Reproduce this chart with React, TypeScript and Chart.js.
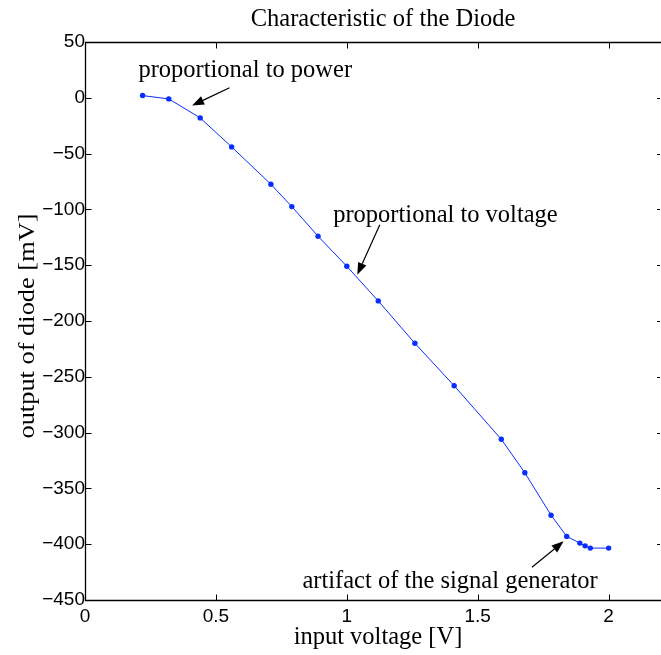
import React, { useEffect, useRef } from "react";
import { Chart, registerables } from "chart.js";

Chart.register(...registerables);

// ---- data ----
const inputVoltage = [0.22, 0.32, 0.44, 0.56, 0.71, 0.79, 0.89, 1.0, 1.12, 1.26, 1.41, 1.59, 1.68, 1.78, 1.84, 1.89, 1.91, 1.93, 2.0];
const diodeOutput = [2, -1, -18, -44, -77.5, -97.5, -124, -151, -182, -220, -258, -306, -336, -374, -393, -399, -401.5, -403.5, -403.5];

const xTickValues = [0, 0.5, 1, 1.5, 2];
const yTickValues = [50, 0, -50, -100, -150, -200, -250, -300, -350, -400, -450];

const titleText = "Characteristic of the Diode";
const xLabelText = "input voltage [V]";
const yLabelText = "output of diode [mV]";

const noteTexts = ["proportional to power", "proportional to voltage", "artifact of the signal generator"];
// anchor of each text (data coords) and arrow tail/head (data coords)
const noteTextX = [0.204, 0.948, 1.958];
const noteTextY = [18.2, -111.6, -439.4];
const noteAlign = ["left", "left", "right"];
const arrowTailX = [0.552, 1.126, 1.707];
const arrowTailY = [9.0, -113.7, -420.7];
const arrowHeadX = [0.409, 1.04, 1.828];
const arrowHeadY = [-6.9, -158.5, -397.4];

const SERIF = '"Liberation Serif", "Times New Roman", serif';
const SANS = '"Liberation Sans", Arial, Helvetica, sans-serif';

const decorPlugin = {
  id: "decor",
  afterDraw(chart: any) {
    const ctx = chart.ctx as CanvasRenderingContext2D;
    const xs = chart.scales.x;
    const ys = chart.scales.y;
    const ca = chart.chartArea;
    const L = Math.round(ca.left) + 0.5;
    const R = ca.right - 1;
    const T = Math.round(ca.top) + 0.5;
    const B = Math.round(ca.bottom) + 0.5;
    ctx.save();
    // frame
    ctx.strokeStyle = "#000";
    ctx.lineWidth = 1.3;
    ctx.beginPath();
    ctx.moveTo(ca.right + 2, T);
    ctx.lineTo(L, T);
    ctx.lineTo(L, B);
    ctx.lineTo(ca.right + 2, B);
    ctx.stroke();
    // inward ticks
    ctx.lineWidth = 1;
    const tl = 6;
    ctx.beginPath();
    for (const v of xTickValues) {
      const px = Math.round(xs.getPixelForValue(v)) + 0.5;
      ctx.moveTo(px, B);
      ctx.lineTo(px, B - tl);
      ctx.moveTo(px, T);
      ctx.lineTo(px, T + tl);
    }
    for (const v of yTickValues) {
      const py = Math.round(ys.getPixelForValue(v)) + 0.5;
      ctx.moveTo(L, py);
      ctx.lineTo(L + tl, py);
      ctx.moveTo(R, py);
      ctx.lineTo(R - 3, py);
    }
    ctx.stroke();

    // title
    const cx = (ca.left + ca.right) / 2;
    ctx.fillStyle = "#000";
    ctx.font = `24.5px ${SERIF}`;
    ctx.textAlign = "center";
    ctx.textBaseline = "alphabetic";
    ctx.fillText(titleText, cx + 10, 26);
    // x label
    ctx.font = `24.5px ${SERIF}`;
    ctx.fillText(xLabelText, cx + 5, 644);
    // y label
    ctx.save();
    ctx.translate(34, 326);
    ctx.rotate(-Math.PI / 2);
    ctx.scale(1.1, 1);
    ctx.font = `24px ${SERIF}`;
    ctx.fillText(yLabelText, 0, 0);
    ctx.restore();

    // annotations
    for (let i = 0; i < noteTexts.length; i++) {
      ctx.font = `24.5px ${SERIF}`;
      ctx.textAlign = noteAlign[i] as CanvasTextAlign;
      ctx.fillStyle = "#000";
      ctx.fillText(noteTexts[i], xs.getPixelForValue(noteTextX[i]), ys.getPixelForValue(noteTextY[i]));
      const x0 = xs.getPixelForValue(arrowTailX[i]);
      const y0 = ys.getPixelForValue(arrowTailY[i]);
      const x1 = xs.getPixelForValue(arrowHeadX[i]);
      const y1 = ys.getPixelForValue(arrowHeadY[i]);
      const ang = Math.atan2(y1 - y0, x1 - x0);
      const hl = 12;
      const hw = 4.5;
      const bx = x1 - hl * Math.cos(ang);
      const by = y1 - hl * Math.sin(ang);
      ctx.strokeStyle = "#000";
      ctx.lineWidth = 1.2;
      ctx.beginPath();
      ctx.moveTo(x0, y0);
      ctx.lineTo(bx, by);
      ctx.stroke();
      ctx.beginPath();
      ctx.moveTo(x1, y1);
      ctx.lineTo(bx + hw * Math.sin(ang), by - hw * Math.cos(ang));
      ctx.lineTo(bx - hw * Math.sin(ang), by + hw * Math.cos(ang));
      ctx.closePath();
      ctx.fill();
    }
    ctx.restore();
  },
};

export default function App() {
  const ref = useRef<HTMLCanvasElement | null>(null);
  useEffect(() => {
    if (!ref.current) return;
    const chart = new Chart(ref.current, {
      type: "line",
      data: {
        datasets: [
          {
            data: inputVoltage.map((x, i) => ({ x, y: diodeOutput[i] })),
            borderColor: "#0a2dff",
            backgroundColor: "#0a2dff",
            borderWidth: 1,
            pointRadius: 2.7,
            pointBorderWidth: 0,
            pointBackgroundColor: "#0a2dff",
            tension: 0,
          },
        ],
      },
      options: {
        responsive: false,
        animation: false,
        events: [],
        layout: { autoPadding: false, padding: { top: 42, left: 0, right: 0, bottom: 0 } },
        plugins: { legend: { display: false }, tooltip: { enabled: false }, title: { display: false } },
        scales: {
          x: {
            type: "linear",
            min: 0,
            max: 2.2,
            grid: { display: false, drawTicks: false },
            border: { display: false },
            afterBuildTicks: (s: any) => {
              s.ticks = xTickValues.map((v) => ({ value: v }));
            },
            afterFit: (s: any) => {
              s.height = 55;
              s.paddingLeft = 0;
              s.paddingRight = 0;
            },
            ticks: {
              padding: 5,
              color: "#000",
              font: { family: SANS, size: 19 },
              maxRotation: 0,
              autoSkip: false,
              callback: (v: any) => String(v),
            },
          },
          y: {
            type: "linear",
            min: -450,
            max: 50,
            grid: { display: false, drawTicks: false },
            border: { display: false },
            afterBuildTicks: (s: any) => {
              s.ticks = yTickValues.map((v) => ({ value: v }));
            },
            afterFit: (s: any) => {
              s.width = 85;
              s.paddingTop = 0;
              s.paddingBottom = 0;
            },
            ticks: {
              padding: 0,
              color: "#000",
              font: { family: SANS, size: 19 },
              autoSkip: false,
              callback: (v: any) => (Number(v) < 0 ? "\u2212" + Math.abs(Number(v)) : String(v)),
            },
          },
        },
      },
      plugins: [decorPlugin],
    });
    return () => chart.destroy();
  }, []);
  return (
    <div style={{ position: "fixed", left: 0, top: 0, width: 661, height: 655, background: "#fff" }}>
      <canvas ref={ref} width={661} height={655} style={{ display: "block" }} />
    </div>
  );
}
